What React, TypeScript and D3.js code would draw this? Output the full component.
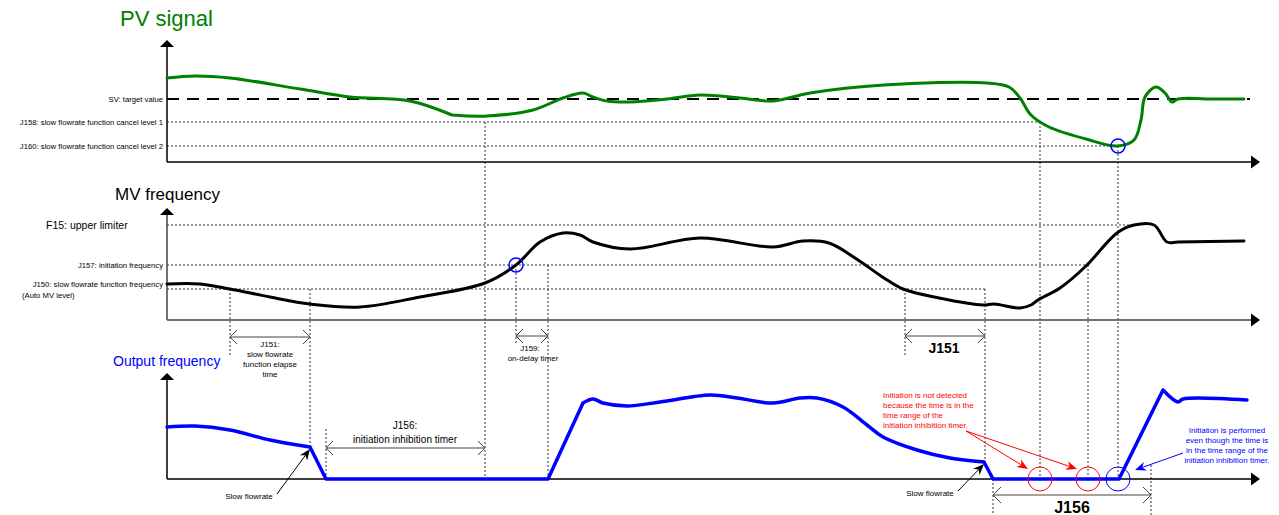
import React from 'react';
import * as d3 from 'd3';

const W = 1279;
const H = 515;

// ---- data (time units on x, signal level on y) ----
const pvSignalA: [number, number][] = [
  [0, 84], [28, 86], [63, 84], [133, 73], [183, 65], [243, 61], [285, 47],
];
const pvSignalB: [number, number][] = [
  [285, 47], [320, 46], [366, 52], [396, 64], [416, 69], [426, 65], [440, 61], [463, 60],
  [500, 63], [533, 67], [573, 64], [606, 61], [643, 69], [717, 77], [820, 79], [842, 75],
  [853, 64], [864, 47], [882, 35], [919, 23], [950, 16], [967, 22], [974, 42], [978, 65],
  [989, 75], [998, 69], [1005, 60], [1011, 63], [1048, 63], [1077, 63],
];
const mvFrequency: [number, number][] = [
  [0, 36], [33, 36], [63, 31], [103, 23], [143, 16], [193, 13], [253, 23], [318, 37],
  [349, 55], [373, 78], [396, 87], [413, 85], [426, 78], [463, 71], [533, 82], [606, 73],
  [636, 79], [662, 77], [691, 60], [717, 42], [736, 31], [772, 22], [816, 15], [827, 16],
  [853, 12], [864, 15], [871, 20], [893, 32], [919, 54], [950, 87], [967, 95], [987, 95],
  [1000, 78], [1011, 78], [1077, 79],
];
const outSmooth1: [number, number][] = [[0, 52], [28, 53], [63, 49], [103, 39], [143, 32]];
const outRamp1: [number, number][] = [[143, 32], [159, 0], [381, 0], [416, 76]];
const outSmooth2: [number, number][] = [
  [416, 76], [426, 80], [436, 76], [460, 73], [493, 77], [543, 84], [570, 81], [606, 76],
  [633, 81], [650, 81], [676, 72], [700, 54], [716, 42], [750, 29], [783, 21], [817, 17],
];
const outRamp2: [number, number][] = [[817, 17], [826, 0], [952, 0], [996, 89]];
const outSmooth3: [number, number][] = [[996, 89], [1011, 77], [1016, 80], [1080, 79]];

const pvLevelLabels = ['SV: target value', 'J158: slow flowrate function cancel level 1', 'J160: slow flowrate function cancel level 2'];
const pvLevelValues = [63, 40, 16];
const mvLevelValues = [95, 55, 31]; // F15, J157, J150

// event times
const tJ151Start = 63;
const tSlow1 = 143;
const tZero1 = 159;
const tInhibEnd = 318;
const tJ157Cross = 349;
const tStart1 = 381;
const tJ151bStart = 738;
const tSlow2 = 818;
const tZero2 = 826;
const tRed1 = 873;
const tRed2 = 921;
const tBlue = 951;
const tInhib2End = 984;
const tSvEnd = 1083;
const tF15End = 968;

const redNote = ['Initiation is not detected', 'because the time is in the', 'time range of the', 'initiation inhibition timer.'];
const blueNote = ['Initiation is performed', 'even though the time is', 'in the time range of the', 'initiation inhibition timer.'];
const j151Note = ['J151:', 'slow flowrate', 'function elapse', 'time'];

const x = d3.scaleLinear().domain([0, 1093]).range([167, 1260]);
const yPV = d3.scaleLinear().domain([0, 122]).range([162, 40]);
const yMV = d3.scaleLinear().domain([0, 111]).range([320, 209]);
const yOut = d3.scaleLinear().domain([0, 106]).range([479, 373]);

const FONT = '"Liberation Sans", Arial, sans-serif';
const GREEN = '#008000';
const BLUE = '#0000ff';
const RED = '#ff0000';

const smooth = (ys: d3.ScaleLinear<number, number>) =>
  d3.line<[number, number]>().x((d) => x(d[0])).y((d) => ys(d[1])).curve(d3.curveCatmullRom.alpha(0.5));
const straight = (ys: d3.ScaleLinear<number, number>) =>
  d3.line<[number, number]>().x((d) => x(d[0])).y((d) => ys(d[1]));

function Axis({ y0, yTop, color }: { y0: number; yTop: number; color: string }) {
  const x0 = x(0);
  const xe = x(1093);
  return (
    <g>
      <line x1={x0} x2={x0} y1={yTop + 6} y2={y0} stroke={color} strokeWidth={1.5} />
      <polygon points={`${x0},${yTop} ${x0 - 7},${yTop + 7} ${x0 + 7},${yTop + 7}`} fill="#000" />
      <line x1={x0} x2={xe - 8} y1={y0} y2={y0} stroke={color} strokeWidth={1.5} />
      <polygon points={`${xe},${y0} ${xe - 9},${y0 - 6.5} ${xe - 9},${y0 + 6.5}`} fill="#000" />
    </g>
  );
}

function Dim({ x1, x2, y, h = 7 }: { x1: number; x2: number; y: number; h?: number }) {
  return (
    <g stroke="#444" strokeWidth={1} fill="none">
      <line x1={x1} x2={x2} y1={y} y2={y} />
      <polyline points={`${x1 + h},${y - h} ${x1},${y} ${x1 + h},${y + h}`} />
      <polyline points={`${x2 - h},${y - h} ${x2},${y} ${x2 - h},${y + h}`} />
    </g>
  );
}

function Arrow({ x1, y1, x2, y2, color, len = 11, w = 4.5 }: { x1: number; y1: number; x2: number; y2: number; color: string; len?: number; w?: number }) {
  const a = Math.atan2(y2 - y1, x2 - x1);
  const bx = x2 - len * Math.cos(a);
  const by = y2 - len * Math.sin(a);
  const nx = -Math.sin(a);
  const ny = Math.cos(a);
  const mx = x2 - len * 0.7 * Math.cos(a);
  const my = y2 - len * 0.7 * Math.sin(a);
  return (
    <g>
      <line x1={x1} y1={y1} x2={mx} y2={my} stroke={color} strokeWidth={1} />
      <polygon points={`${x2},${y2} ${bx + nx * w},${by + ny * w} ${mx},${my} ${bx - nx * w},${by - ny * w}`} fill={color} />
    </g>
  );
}

function VLine({ t, y1, y2 }: { t: number; y1: number; y2: number }) {
  return <line x1={x(t)} x2={x(t)} y1={y1} y2={y2} stroke="#333" strokeWidth={1} strokeDasharray="2 2" />;
}

export default function App() {
  const pvPath = smooth(yPV)(pvSignalA)! + smooth(yPV)(pvSignalB)!;
  const mvPath = smooth(yMV)(mvFrequency)!;
  const outPath =
    smooth(yOut)(outSmooth1)! + straight(yOut)(outRamp1)! + smooth(yOut)(outSmooth2)! +
    straight(yOut)(outRamp2)! + smooth(yOut)(outSmooth3)!;
  const pvEnds = [tSvEnd, tRed1, tBlue];
  const mvEnds = [tF15End, tRed2, tSlow2];
  const small = 8;
  const lbl = 7.7;

  return (
    <svg width={W} height={H} style={{ position: 'absolute', left: 0, top: 0, background: '#fff' }} fontFamily={FONT}>
      <rect width={W} height={H} fill="#fff" />
      {/* titles */}
      <text x={120} y={18} fontSize={22} fill={GREEN} dominantBaseline="central">PV signal</text>
      <text x={115} y={194} fontSize={17} fill="#000" dominantBaseline="central">MV frequency</text>
      <text x={113} y={361} fontSize={14} fill={BLUE} dominantBaseline="central">Output frequency</text>

      {/* PV level lines */}
      {pvLevelValues.map((v, i) =>
        i === 0 ? (
          <line key={i} x1={x(0)} x2={x(pvEnds[i])} y1={yPV(v)} y2={yPV(v)} stroke="#000" strokeWidth={2} strokeDasharray="12 8" />
        ) : (
          <line key={i} x1={x(0)} x2={x(pvEnds[i])} y1={yPV(v)} y2={yPV(v)} stroke="#333" strokeWidth={1} strokeDasharray="2 2" />
        )
      )}
      {pvLevelLabels.map((s, i) => (
        <text key={s} x={163} y={yPV(pvLevelValues[i])} fontSize={lbl} textAnchor="end" dominantBaseline="central">{s}</text>
      ))}

      {/* MV level lines */}
      {mvLevelValues.map((v, i) => (
        <line key={i} x1={x(0)} x2={x(mvEnds[i])} y1={yMV(v)} y2={yMV(v)} stroke="#333" strokeWidth={1} strokeDasharray="2 2" />
      ))}
      <text x={46} y={yMV(mvLevelValues[0])} fontSize={10.5} dominantBaseline="central">F15: upper limiter</text>
      <text x={163} y={yMV(mvLevelValues[1])} fontSize={lbl} textAnchor="end" dominantBaseline="central">J157: initiation frequency</text>
      <text x={163} y={yMV(36)} fontSize={lbl} textAnchor="end" dominantBaseline="central">J150: slow flowrate function frequency</text>
      <text x={22} y={295} fontSize={lbl} dominantBaseline="central">(Auto MV level)</text>

      {/* vertical guide lines */}
      <VLine t={tJ151Start} y1={yMV(31)} y2={357} />
      <VLine t={tSlow1} y1={yMV(31)} y2={yOut(32)} />
      <VLine t={tInhibEnd} y1={yPV(40)} y2={yOut(0)} />
      <VLine t={tJ157Cross} y1={yMV(55)} y2={345} />
      <VLine t={tStart1} y1={yMV(55)} y2={yOut(0)} />
      <VLine t={tZero1} y1={429} y2={yOut(0)} />
      <VLine t={tJ151bStart} y1={yMV(31)} y2={357} />
      <VLine t={tSlow2} y1={yMV(31)} y2={yOut(17)} />
      <VLine t={tZero2} y1={yOut(0)} y2={515} />
      <VLine t={tRed1} y1={yPV(40)} y2={yOut(0)} />
      <VLine t={tRed2} y1={yMV(55)} y2={yOut(0)} />
      <VLine t={tBlue} y1={yPV(16)} y2={yOut(0)} />
      <VLine t={tInhib2End} y1={465} y2={515} />

      {/* axes */}
      <Axis y0={162} yTop={40} color="#000" />
      <Axis y0={320} yTop={208} color="#444" />
      <Axis y0={479} yTop={373} color="#000" />

      {/* curves */}
      <path d={pvPath} fill="none" stroke={GREEN} strokeWidth={3} strokeLinejoin="round" strokeLinecap="round" />
      <path d={mvPath} fill="none" stroke="#000" strokeWidth={3} strokeLinejoin="round" strokeLinecap="round" />
      <path d={outPath} fill="none" stroke={BLUE} strokeWidth={3.5} strokeLinejoin="round" strokeLinecap="round" />

      {/* markers */}
      <circle cx={x(tJ157Cross)} cy={yMV(55)} r={7} fill="none" stroke={BLUE} strokeWidth={1.5} />
      <circle cx={x(tBlue)} cy={yPV(16)} r={7} fill="none" stroke={BLUE} strokeWidth={1.5} />
      <circle cx={x(tRed1)} cy={yOut(0)} r={12} fill="none" stroke={RED} strokeWidth={1} />
      <circle cx={x(tRed2)} cy={yOut(0)} r={12} fill="none" stroke={RED} strokeWidth={1} />
      <circle cx={x(tBlue)} cy={yOut(0)} r={12} fill="none" stroke={BLUE} strokeWidth={1} />

      {/* timers */}
      <Dim x1={x(tJ151Start)} x2={x(tSlow1)} y={337} />
      {j151Note.map((s, i) => (
        <text key={s} x={270} y={344 + i * 10} fontSize={small} textAnchor="middle" dominantBaseline="central">{s}</text>
      ))}
      <Dim x1={x(tJ157Cross)} x2={x(tStart1)} y={336} />
      <text x={530} y={348} fontSize={small} textAnchor="middle" dominantBaseline="central">J159:</text>
      <text x={533} y={358} fontSize={small} textAnchor="middle" dominantBaseline="central">on-delay timer</text>
      <Dim x1={x(tJ151bStart)} x2={x(tSlow2)} y={336} />
      <text x={944} y={348} fontSize={14} fontWeight="bold" textAnchor="middle" dominantBaseline="central">J151</text>
      <Dim x1={x(tZero1)} x2={x(tInhibEnd)} y={448} />
      <text x={405} y={425} fontSize={10} textAnchor="middle" dominantBaseline="central">J156:</text>
      <text x={405} y={439} fontSize={10} textAnchor="middle" dominantBaseline="central">initiation inhibition timer</text>
      <Dim x1={x(tZero2)} x2={x(tInhib2End)} y={495} h={8} />
      <text x={1072} y={507} fontSize={16} fontWeight="bold" textAnchor="middle" dominantBaseline="central">J156</text>

      {/* slow flowrate notes */}
      <text x={249} y={496} fontSize={small} textAnchor="middle" dominantBaseline="central">Slow flowrate</text>
      <Arrow x1={277} y1={494} x2={x(tSlow1)} y2={yOut(32) + 2} color="#000" />
      <text x={930} y={493} fontSize={small} textAnchor="middle" dominantBaseline="central">Slow flowrate</text>
      <Arrow x1={958} y1={491} x2={x(tSlow2) - 1} y2={yOut(17) + 2} color="#000" />

      {/* red note */}
      {redNote.map((s, i) => (
        <text key={s} x={883} y={395 + i * 10} fontSize={small} fill={RED} dominantBaseline="central">{s}</text>
      ))}
      <Arrow x1={966} y1={431} x2={1028} y2={469} color={RED} />
      <Arrow x1={966} y1={431} x2={1077} y2={469} color={RED} />

      {/* blue note */}
      {blueNote.map((s, i) => (
        <text key={s} x={1227} y={430 + i * 10} fontSize={small} fill={BLUE} textAnchor="middle" dominantBaseline="central">{s}</text>
      ))}
      <Arrow x1={1183} y1={453} x2={1135} y2={470} color={BLUE} />
    </svg>
  );
}
